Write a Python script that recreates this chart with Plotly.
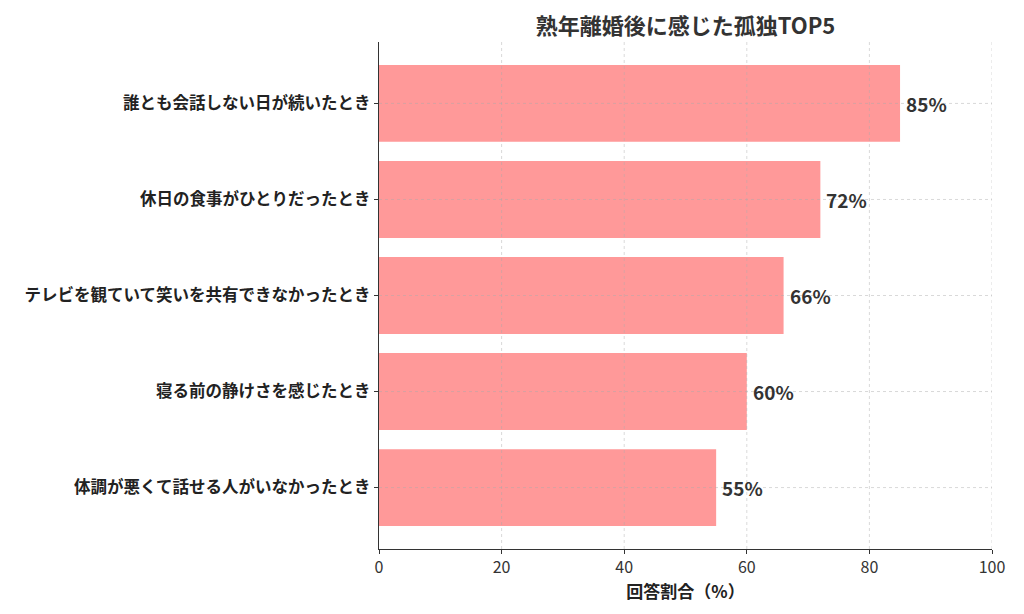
import plotly.graph_objects as go

categories = [
    "誰とも会話しない日が続いたとき",
    "休日の食事がひとりだったとき",
    "テレビを観ていて笑いを共有できなかったとき",
    "寝る前の静けさを感じたとき",
    "体調が悪くて話せる人がいなかったとき",
]
values = [85, 72, 66, 60, 55]
labels = [f"{v}%" for v in values]
title = "熟年離婚後に感じた孤独TOP5"
x_title = "回答割合（%）"
x_ticks = [0, 20, 40, 60, 80, 100]

FONT = "Noto Sans CJK JP"
OFF = 8  # page body margin

L, R = 379 - OFF, 992 - OFF
T, B = 42 - OFF, 549 - OFF
W, H = 1024, 614

fig = go.Figure()
fig.add_trace(go.Bar(
    y=categories, x=values, orientation="h",
    marker=dict(color="#ff9999", line=dict(width=0)),
    width=0.8,
))

for v, c, t in zip(values, categories, labels):
    fig.add_annotation(
        x=v, y=c, text=f"<b>{t}</b>", showarrow=False,
        xanchor="left", yanchor="middle", xshift=4,
        font=dict(family=FONT, size=19, color="#333333"),
    )

grid_style = dict(color="rgba(170,170,170,0.45)", width=1, dash="3px,3px")
for xv in x_ticks[1:]:
    fig.add_shape(type="line", xref="x", yref="paper", x0=xv, x1=xv, y0=0, y1=1,
                  line=grid_style, layer="above")
for c in categories:
    fig.add_shape(type="line", xref="paper", yref="y", x0=0, x1=1, y0=c, y1=c,
                  line=grid_style, layer="above")

fig.update_layout(
    width=W, height=H,
    paper_bgcolor="white", plot_bgcolor="white",
    margin=dict(l=L, r=W - R, t=T, b=H - B, autoexpand=False),
    showlegend=False,
    title=dict(text=f"<b>{title}</b>", x=((L + R) / 2) / W, xanchor="center",
               y=1 - (26 - OFF) / H, yanchor="middle",
               font=dict(family=FONT, size=22, color="#333333")),
    xaxis=dict(
        range=[0, 100], tickvals=x_ticks, ticks="outside", ticklen=4, tickcolor="#333333",
        showline=True, linecolor="#333333", linewidth=1.2,
        showgrid=False, zeroline=False, automargin=False,
        tickfont=dict(family=FONT, size=16, color="#333333"),
        title=dict(text=f"<b>{x_title}</b>", font=dict(family=FONT, size=17, color="#222222"), standoff=2),
    ),
    yaxis=dict(
        categoryorder="array", categoryarray=categories[::-1],
        range=[-0.64, 4.64],
        ticks="outside", ticklen=4, tickcolor="#333333",
        showline=True, linecolor="#333333", linewidth=1.2,
        showgrid=False, zeroline=False, automargin=False,
        tickfont=dict(family=FONT, size=16.5, color="#222222", weight="bold"),
    ),
    bargap=0.2,
)

fig.write_html("out.html")
